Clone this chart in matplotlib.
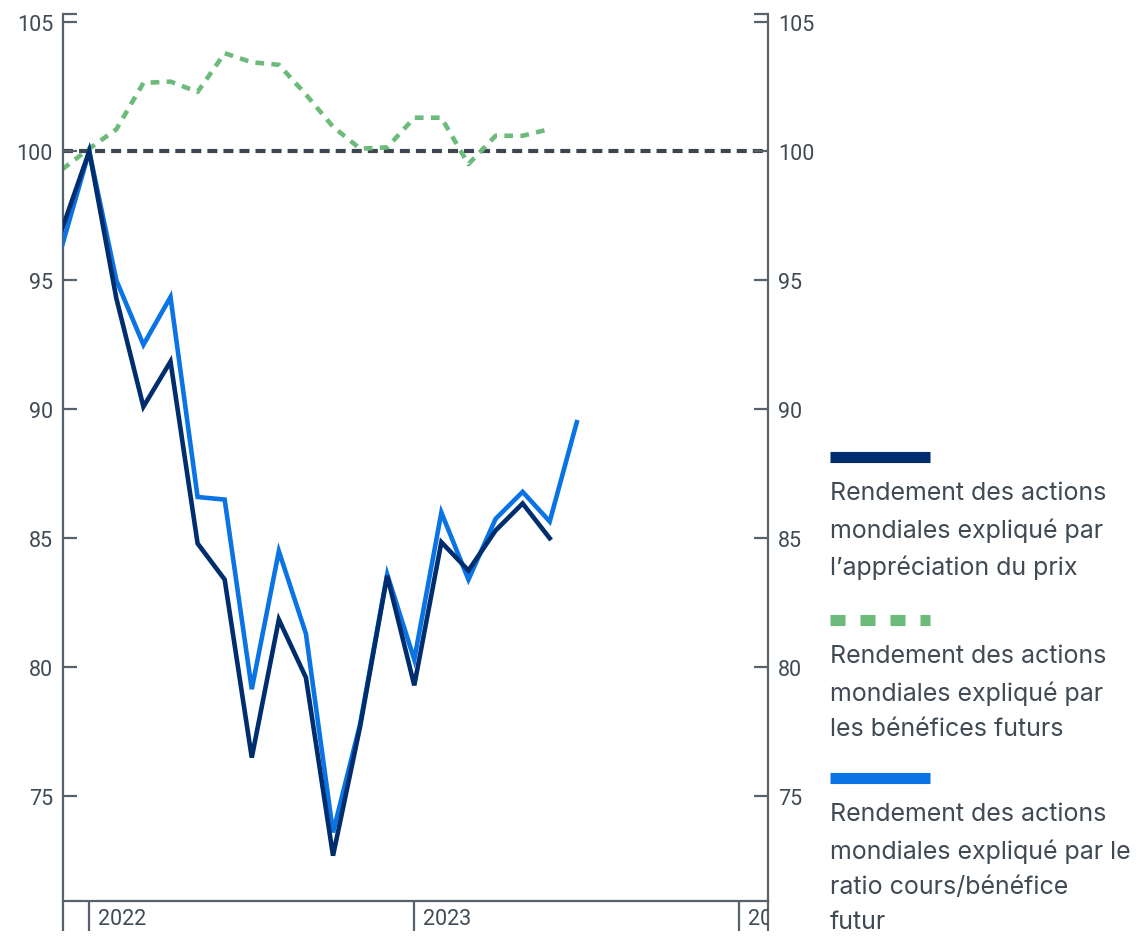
import matplotlib
matplotlib.use("Agg")
import matplotlib.pyplot as plt
from matplotlib.lines import Line2D
from matplotlib.transforms import Bbox, TransformedBbox
import numpy as np

plt.rcParams['font.family'] = ['Roboto', 'DejaVu Sans']

# months since Jan 2022 (-1 = Dec 2021)
months = list(range(-1, 19))

# indexed to 100
price = [97.0, 100.0, 94.3, 90.1, 91.85, 84.8, 83.4, 76.5, 81.85, 79.6,
         72.7, 77.7, 83.55, 79.3, 84.85, 83.75, 85.3, 86.35, 85.0]
earnings = [99.3, 100.1, 100.85, 102.65, 102.7, 102.3, 103.8, 103.45, 103.35, 102.2,
            100.95, 100.1, 100.15, 101.3, 101.3, 99.5, 100.6, 100.6, 100.86]
pe_ratio = [96.35, 100.0, 95.0, 92.5, 94.35, 86.6, 86.5, 79.15, 84.5, 81.3,
            73.6, 77.8, 83.6, 80.3, 86.0, 83.4, 85.75, 86.8, 85.65, 89.5]

y_ticks = [75, 80, 85, 90, 95, 100, 105]
year_ticks = [0, 12, 24]
year_labels = ['2022', '2023', '2024']
legend_labels = [
    "Rendement des actions\nmondiales expliqué par\nl\u2019appréciation du prix",
    "Rendement des actions\nmondiales expliqué par\nles bénéfices futurs",
    "Rendement des actions\nmondiales expliqué par le\nratio cours/bénéfice\nfutur",
]

navy = '#002d6e'
blue = '#0a74e4'
green = '#6dbb7b'
axis_col = '#57626c'
text_col = '#3f4a54'

W, H = 1138, 937
fig = plt.figure(figsize=(W / 100, H / 100), dpi=100)
ax = fig.add_axes([62.7 / W, 1 - 902.3 / H, (768.3 - 62.7) / W, (902.3 - 15) / H])

xmin, xmax = -0.98, 25.07
ymin, ymax = 70.93, 105.32
ax.set_xlim(xmin, xmax)
ax.set_ylim(ymin, ymax)

ax.axhline(100, color='#3d4650', lw=3.0, dashes=(2.4, 1.45), zorder=1)
ax.plot(months[:len(earnings)], earnings, color=green, lw=3.3, dashes=(1.9, 1.6),
        solid_capstyle='butt', zorder=2)
ax.plot(months[:len(pe_ratio)], pe_ratio, color=blue, lw=3.3, solid_joinstyle='miter', zorder=3)
ax.plot(months[:len(price)], price, color=navy, lw=3.3, solid_joinstyle='miter', zorder=4)

for side in ['left', 'right', 'bottom']:
    ax.spines[side].set_color(axis_col)
    ax.spines[side].set_linewidth(1.6)
ax.spines['top'].set_visible(False)

# y axis: labels both sides, plus an unlabeled tick at the top edge
ax.set_yticks(y_ticks + [ymax])
ax.set_yticklabels([str(v) for v in y_ticks] + [''])
ax.tick_params(axis='y', direction='in', length=10, width=1.6, color=axis_col,
               left=True, right=True, labelleft=True, labelright=True,
               labelsize=15.5, labelcolor=text_col, pad=7)

# x axis: long ticks below, labels placed to the right of each tick
ax.set_xticks([xmin] + year_ticks + [xmax])
ax.set_xticklabels([])
ax.tick_params(axis='x', direction='out', length=21.5, width=1.6, color=axis_col)

clip = TransformedBbox(Bbox([[0, -0.2], [1, 1]]), ax.transAxes)
for xt, lab in zip(year_ticks, year_labels):
    t = ax.annotate(lab, xy=(xt, 0), xycoords=('data', 'axes fraction'),
                    xytext=(6, -12.5), textcoords='offset points',
                    ha='left', va='center', fontsize=15.5, color=text_col,
                    annotation_clip=False)
    t.set_clip_box(clip)
    t.set_clip_on(True)

# legend on the right
handles = [dict(color=navy, dashes=None), dict(color=green, dashes=(1.35, 1.35)),
           dict(color=blue, dashes=None)]
handle_y = [458, 621, 779]
for h, hy, lab in zip(handles, handle_y, legend_labels):
    ln = Line2D([830 / W, 930 / W], [1 - hy / H, 1 - hy / H], transform=fig.transFigure,
                color=h['color'], lw=8, solid_capstyle='butt')
    if h['dashes']:
        ln.set_dashes(h['dashes'])
        ln.set_dash_capstyle('butt')
    fig.add_artist(ln)
    fig.text(830 / W, 1 - (hy + 24) / H, lab, ha='left', va='top', fontsize=18,
             family=['Inter', 'DejaVu Sans'], color=text_col, linespacing=1.67)

fig.savefig('out.png', dpi=100)
